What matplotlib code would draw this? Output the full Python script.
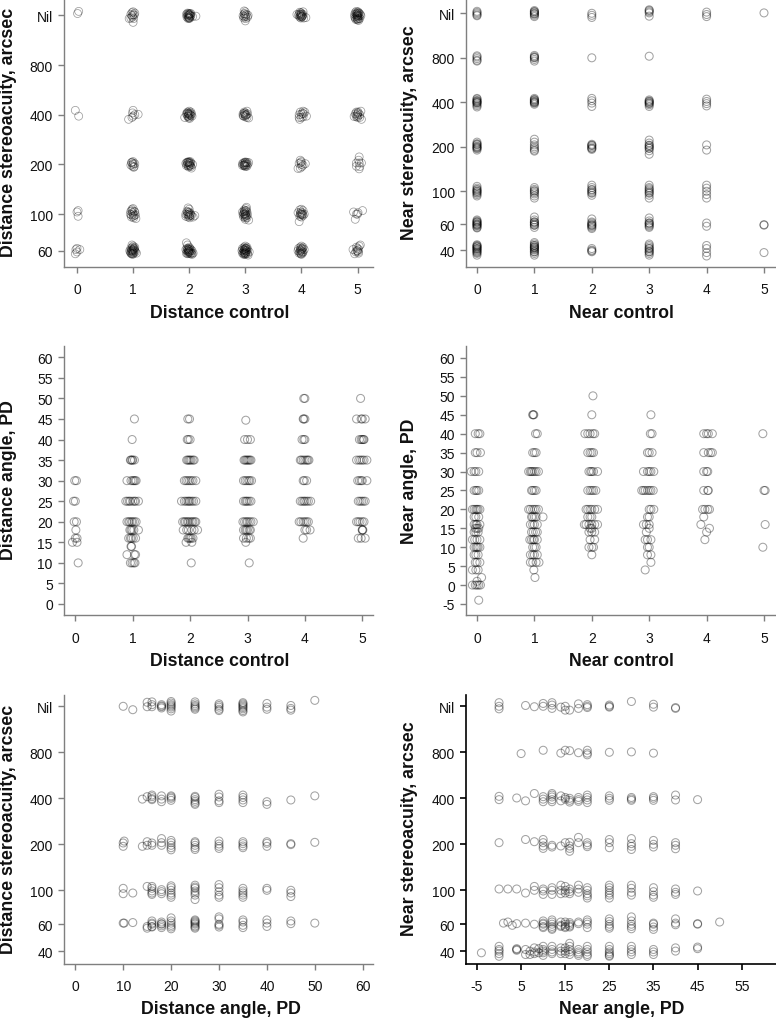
import matplotlib
matplotlib.use('Agg')
import matplotlib.pyplot as plt

plt.rcParams['font.family'] = ['Liberation Sans', 'DejaVu Sans']
plt.rcParams['axes.unicode_minus'] = False

NIL = 1600
stereo_ticks = [40, 60, 100, 200, 400, 800, NIL]
stereo_labels = ['40', '60', '100', '200', '400', '800', 'Nil']
stereo_ticks_a = stereo_ticks[1:]
stereo_labels_a = stereo_labels[1:]
control_ticks = [0, 1, 2, 3, 4, 5]
angle_ticks_c = [0, 5, 10, 15, 20, 25, 30, 35, 40, 45, 50, 55, 60]
angle_ticks_d = [-5] + angle_ticks_c
angle_ticks_e = [0, 10, 20, 30, 40, 50, 60]
angle_ticks_f = [-5, 5, 15, 25, 35, 45, 55]

# distance control vs distance stereoacuity, (control, arcsec)
a_col0 = [(0.03, 1690), (0.01, 1640), (-0.03, 425), (0.03, 392), (0.02, 105), (0.0, 103), (0.02, 97),
          (-0.02, 61), (0.0, 62), (0.05, 61), (-0.03, 57.5), (0.0, 59)]
a_col1 = [(0.98, 1660), (1.0, 1680), (0.96, 1620), (1.02, 1610), (0.93, 1530), (0.99, 1560), (1.01, 1530), (1.0, 1450),
          (0.98, 1590), (1.03, 1650), (0.96, 1540), (1.0, 1610),
          (1.0, 425), (0.99, 410), (1.03, 400), (1.09, 402), (0.92, 375), (1.0, 392), (0.98, 385),
          (0.97, 205), (1.0, 208), (1.03, 202), (0.99, 195), (1.01, 192), (0.96, 198), (1.0, 203), (0.98, 206), (1.02, 194), (1.0, 200),
          (0.98, 107), (1.0, 108), (0.96, 104), (1.02, 104), (0.95, 100), (1.0, 100), (1.04, 99), (0.97, 96), (1.01, 95), (1.05, 94),
          (0.99, 102), (1.02, 98), (0.98, 105), (0.97, 99), (1.03, 103), (1.0, 97),
          (0.98, 65), (1.0, 64), (0.96, 62), (0.99, 63), (1.02, 62), (0.94, 60), (0.97, 60), (1.0, 60), (1.03, 60), (1.06, 58),
          (0.95, 59), (0.98, 58), (1.01, 58), (0.99, 57), (1.04, 59), (0.97, 61), (1.0, 59), (1.02, 61), (0.98, 59.5), (0.99, 60.5),
          (1.0, 61), (0.96, 58), (1.01, 62), (1.03, 63), (0.97, 57.5), (1.0, 57.5)]
a_col2 = [(1.97, 1650), (2.0, 1640), (2.02, 1630), (1.95, 1620), (1.98, 1610), (2.0, 1600), (2.03, 1590), (2.06, 1570), (2.12, 1580),
          (1.96, 1560), (1.99, 1550), (2.01, 1540), (1.98, 1530), (2.0, 1530), (1.97, 1590), (2.0, 1620), (2.02, 1580), (1.99, 1570),
          (2.01, 1610), (1.98, 1640), (2.03, 1640), (2.0, 1550),
          (1.97, 415), (2.0, 420), (2.03, 415), (1.95, 405), (1.98, 408), (2.01, 410), (2.04, 405), (1.92, 385), (1.97, 392), (2.0, 398),
          (2.03, 395), (2.05, 392), (1.99, 382), (2.01, 380), (1.98, 402), (2.0, 405), (2.02, 400), (1.98, 392), (2.0, 388), (1.97, 410),
          (1.96, 206), (1.99, 208), (2.02, 208), (1.94, 203), (1.97, 200), (2.0, 202), (2.03, 204), (2.06, 200), (1.95, 197), (1.98, 196),
          (2.01, 196), (2.03, 194), (2.04, 190), (1.99, 193), (2.0, 206), (1.98, 205), (2.02, 198), (2.0, 198), (1.97, 206), (2.01, 204),
          (1.98, 109), (2.0, 107), (1.96, 104), (2.0, 103), (1.94, 100), (1.97, 100), (2.0, 100), (2.03, 99), (2.1, 98), (2.07, 96),
          (1.94, 97), (1.98, 96), (2.01, 95), (2.04, 98), (1.99, 102), (2.01, 98), (1.98, 99), (2.0, 97), (1.97, 103), (2.02, 101),
          (1.95, 67), (1.97, 65), (2.0, 63), (1.98, 62), (1.94, 61), (1.96, 60), (1.99, 60), (2.02, 60), (2.05, 60), (2.07, 58),
          (1.95, 58), (1.98, 58), (2.0, 58), (2.03, 58), (2.05, 57), (1.97, 61), (2.0, 61), (2.01, 62), (1.98, 59), (1.99, 59.5),
          (2.03, 61), (1.96, 62), (2.0, 59), (1.97, 57.5), (2.02, 57.5), (2.05, 58), (1.99, 61), (2.01, 59)]
a_col3 = [(2.98, 1700), (3.0, 1680), (2.98, 1630), (3.02, 1620), (2.96, 1590), (3.0, 1600), (3.05, 1600), (2.97, 1540), (3.01, 1530),
          (3.0, 1480), (3.04, 1560), (2.99, 1640), (3.01, 1570), (2.98, 1570),
          (2.98, 415), (3.03, 420), (2.96, 405), (3.0, 410), (3.02, 400), (2.97, 392), (3.0, 395), (3.03, 385), (3.06, 382), (2.99, 402),
          (3.01, 398), (2.98, 408), (2.96, 395), (3.0, 388), (3.04, 405),
          (2.97, 205), (3.0, 207), (3.03, 206), (3.06, 205), (2.95, 202), (2.98, 200), (3.01, 200), (3.04, 200), (2.95, 197), (2.98, 196),
          (3.0, 194), (3.03, 195), (2.99, 204), (3.01, 196), (3.0, 205), (2.97, 198), (3.02, 204), (2.99, 198),
          (3.02, 110), (3.01, 108), (2.98, 106), (3.02, 105), (2.95, 103), (2.99, 103), (3.03, 103), (2.96, 99), (3.0, 99), (3.04, 99),
          (2.97, 96), (3.0, 95), (3.03, 95), (3.06, 92), (3.0, 93), (2.98, 100), (3.01, 101), (2.99, 97), (3.02, 98), (3.0, 105),
          (2.98, 104), (3.01, 97), (2.97, 101), (3.0, 100),
          (3.0, 64), (2.98, 63), (3.03, 63), (2.95, 62), (2.98, 61), (3.01, 62), (3.04, 61), (2.94, 60), (2.97, 59), (3.0, 60), (3.03, 59),
          (3.07, 59), (2.95, 58), (2.98, 57.5), (3.01, 57.5), (3.04, 57.5), (2.97, 57), (3.0, 57), (3.05, 56.5), (2.99, 61), (3.01, 59), (2.98, 60),
          (3.02, 60), (3.0, 58), (2.96, 61), (3.02, 62), (2.99, 58.5), (3.01, 60.5), (2.98, 58), (3.0, 62)]
a_col4 = [(3.97, 1670), (4.03, 1680), (3.99, 1660), (3.92, 1620), (3.96, 1630), (4.0, 1640), (4.03, 1620), (3.95, 1600), (3.99, 1600),
          (4.02, 1590), (4.08, 1550), (3.97, 1560), (4.01, 1560), (4.04, 1540), (3.99, 1540), (4.0, 1620), (3.98, 1620), (4.01, 1580),
          (3.98, 1580), (4.0, 1570),
          (3.98, 415), (4.03, 420), (4.06, 415), (3.96, 400), (4.0, 402), (4.04, 405), (4.09, 392), (3.96, 385), (4.0, 385), (4.03, 388),
          (3.97, 375), (4.02, 408),
          (3.98, 212), (4.0, 208), (4.07, 202), (3.96, 203), (4.0, 200), (4.03, 198), (3.94, 189), (3.98, 190), (4.01, 194), (3.99, 205),
          (3.97, 106), (4.0, 107), (4.03, 105), (3.94, 102), (3.98, 101), (4.01, 102), (4.05, 100), (3.97, 97), (4.0, 96), (4.03, 98),
          (3.96, 90), (3.99, 103), (4.01, 99), (3.98, 99), (4.02, 100), (4.0, 100),
          (3.98, 63), (4.0, 64), (4.03, 63), (3.95, 62), (3.98, 61), (4.01, 61), (4.05, 61), (3.94, 60), (3.97, 59), (4.0, 60), (4.03, 59),
          (3.96, 58), (3.99, 57.5), (4.02, 58), (4.0, 62), (3.98, 60), (4.01, 59), (3.99, 58), (4.0, 57), (4.02, 62)]
a_col5 = [(4.98, 1690), (5.01, 1680), (4.96, 1660), (5.0, 1660), (5.03, 1650), (4.95, 1620), (4.98, 1630), (5.01, 1620), (5.05, 1620),
          (4.95, 1570), (4.98, 1580), (5.0, 1590), (5.03, 1590), (5.06, 1590), (4.96, 1540), (4.99, 1530), (5.02, 1530), (5.04, 1530),
          (5.0, 1500), (5.02, 1490), (4.97, 1510), (5.0, 1600), (4.99, 1610), (5.01, 1570), (5.0, 1560), (5.02, 1650), (4.99, 1650), (5.0, 1520),
          (4.98, 415), (5.01, 415), (5.06, 420), (4.96, 405), (5.0, 405), (5.04, 400), (4.94, 390), (4.98, 390), (5.01, 392), (5.04, 385),
          (5.07, 375), (4.99, 398), (5.01, 410), (5.0, 385),
          (5.03, 222), (5.02, 212), (4.98, 204), (5.03, 204), (5.07, 204), (4.98, 195), (5.04, 194), (5.03, 188),
          (4.93, 103), (4.98, 100), (5.0, 100), (5.09, 105), (5.01, 102), (4.96, 93),
          (5.05, 65), (5.03, 64), (4.98, 63), (4.92, 61), (5.02, 61), (4.97, 59), (5.0, 60), (4.95, 57.5), (5.02, 58), (4.99, 60),
          (5.01, 59), (5.0, 62)]
a_points = a_col0 + a_col1 + a_col2 + a_col3 + a_col4 + a_col5

# near control vs near stereoacuity, (control, [arcsec])
b_col0 = [1650, 1620, 1590, 1560, 1540, 825, 810, 790, 770, 760,
          425, 420, 412, 405, 400, 395, 388, 380, 372, 408, 398, 215, 210, 206, 202, 198, 194, 190, 208, 196, 200,
          108, 105, 103, 100, 97, 95, 93, 102, 98, 100, 64, 63, 62, 61, 60, 59, 58, 57, 56.5, 62, 59, 60,
          43.5, 43, 42.5, 42, 41, 40, 39, 38.5, 38, 37, 42, 41, 39.5, 40.5]
b_col1 = [1670, 1640, 1610, 1580, 1550, 1520, 1640, 1590, 830, 815, 800, 780, 760, 805, 425, 418, 410, 402, 395, 388, 415, 405, 398,
          225, 215, 206, 195, 190, 187, 200, 106, 103, 100, 96, 93, 90, 101, 98, 67, 64, 62, 60, 59, 57, 62, 59, 61,
          45, 44, 43, 42, 41.5, 41, 40, 39, 38, 37, 43, 39, 42, 40.5]
b_col2 = [1600, 1550, 1500, 800, 425, 410, 395, 375, 208, 204, 200, 196, 192, 205, 195, 110, 106, 102, 98, 94, 103, 97, 100,
          65, 62, 60, 59, 58, 57, 56, 61, 59, 41, 40, 39.5, 39]
b_col3 = [1690, 1670, 1640, 1610, 1530, 820, 415, 408, 400, 392, 385, 375, 405, 395, 222, 212, 204, 196, 188, 178, 205, 195, 200,
          110, 106, 102, 98, 94, 90, 100, 104, 97, 66, 63, 61, 60, 58, 57, 61, 59, 44, 43, 42, 41, 40, 39, 38, 37, 41, 39]
b_col4 = [1630, 1570, 1520, 420, 405, 392, 378, 206, 190, 110, 105, 100, 95, 90, 61, 58, 43, 41, 38.5, 36.5]
b_col5 = [1610, 59.5, 59, 38.5]
b_columns = [(0, b_col0), (1, b_col1), (2, b_col2), (3, b_col3), (4, b_col4), (5, b_col5)]

# distance control vs distance angle, (angle, [control])
c_rows = [
    (50, [3.98, 4.0, 4.97]),
    (45, [1.03, 1.96, 1.99, 3.97, 3.98, 4.0, 4.9, 4.98, 5.0, 5.05]),
    (44.7, [2.97]),
    (40, [0.99, 1.95, 1.97, 2.0, 2.95, 3.0, 3.05, 3.95, 3.98, 4.0, 4.95, 4.98, 5.0, 5.02, 5.03]),
    (35, [0.96, 0.97, 0.99, 1.0, 1.03, 1.94, 1.96, 1.98, 2.0, 2.02, 2.05, 2.07, 2.94, 2.96, 2.98, 3.0, 3.02, 3.04, 3.06,
          3.92, 3.94, 3.97, 4.0, 4.03, 4.05, 4.07, 4.9, 4.94, 4.97, 5.0, 5.03, 5.08]),
    (30, [-0.01, 0.02, 0.9, 0.97, 1.0, 1.02, 1.04, 1.06, 1.9, 1.93, 1.96, 1.99, 2.02, 2.05, 2.1, 2.93, 2.96, 2.99, 3.02, 3.04, 3.07,
          3.97, 3.99, 4.03, 4.92, 4.95, 4.98, 5.0, 5.08]),
    (25, [-0.03, 0.0, 0.88, 0.91, 0.94, 0.96, 1.0, 1.03, 1.05, 1.1, 1.85, 1.9, 1.93, 1.96, 1.98, 2.0, 2.03, 2.06, 2.1,
          2.93, 2.96, 2.98, 3.0, 3.03, 3.06, 3.92, 3.95, 3.98, 4.0, 4.03, 4.06, 4.1, 4.93, 4.96, 4.99, 5.02, 5.05]),
    (20, [-0.02, 0.02, 0.9, 0.93, 0.95, 0.98, 1.0, 1.03, 1.06, 1.87, 1.9, 1.92, 1.95, 1.97, 2.0, 2.03, 2.05, 2.08, 2.1,
          2.92, 2.95, 2.98, 3.0, 3.03, 3.06, 3.1, 3.9, 3.93, 3.97, 4.0, 4.03, 4.06, 4.9, 4.93, 4.96, 5.0, 5.03]),
    (18, [0.01, 0.95, 0.97, 0.99, 1.02, 1.1, 1.88, 1.94, 1.97, 2.03, 2.07, 2.13, 2.93, 2.96, 2.98, 3.0, 3.03, 3.05,
          4.0, 4.03, 4.09, 5.0, 5.0, 5.01]),
    (16, [0.0, 0.03, 0.93, 0.96, 0.98, 1.01, 1.05, 1.96, 1.98, 2.0, 2.02, 2.05, 2.93, 2.98, 3.02, 3.05, 3.97, 4.93, 4.98, 5.05]),
    (15, [-0.05, 0.03, 1.93, 2.03, 2.97]),
    (14, [0.97, 0.98]),
    (12, [0.9, 1.03, 1.05]),
    (10, [0.05, 0.96, 0.99, 1.02, 1.04, 2.02, 3.03]),
]

# near control vs near angle, (angle, [control])
d_rows = [
    (50, [2.02]),
    (45, [0.97, 0.98, 0.99, 2.0, 3.03]),
    (40, [-0.03, 0.02, 0.05, 1.02, 1.05, 1.88, 1.93, 1.97, 2.02, 2.05, 3.02, 3.05, 3.95, 4.0, 4.03, 4.1, 4.98]),
    (35, [-0.03, 0.0, 0.06, 0.97, 1.0, 1.03, 1.93, 1.97, 2.0, 2.03, 2.97, 3.0, 3.05, 3.95, 4.03, 4.07, 4.1]),
    (30, [-0.1, -0.05, -0.02, 0.03, 0.9, 0.93, 0.95, 0.97, 1.0, 1.03, 1.07, 1.95, 1.98, 2.0, 2.03, 2.1, 2.9, 2.97, 3.0, 3.03, 3.08,
          3.95, 4.0, 4.02]),
    (25, [-0.05, -0.02, 0.0, 0.03, 0.95, 0.97, 1.0, 1.03, 1.93, 1.97, 2.0, 2.03, 2.07, 2.87, 2.9, 2.93, 2.97, 3.0, 3.03, 3.07, 3.95,
          4.02, 4.03, 5.0, 5.02]),
    (20, [-0.08, -0.05, -0.02, 0.0, 0.02, 0.05, 0.9, 0.93, 0.97, 1.0, 1.03, 1.07, 1.9, 1.93, 1.97, 2.0, 2.05, 2.1, 3.0, 3.03, 3.08,
          3.93, 3.97, 4.02, 4.05]),
    (18, [-0.05, -0.02, 0.03, 0.95, 0.97, 1.0, 1.03, 1.15, 1.93, 1.97, 2.0, 2.97, 3.0, 3.95]),
    (16, [-0.05, -0.02, 0.0, 0.05, 0.93, 0.97, 1.0, 1.05, 1.87, 1.9, 1.95, 2.0, 2.05, 2.1, 2.9, 2.95, 3.0, 3.9, 5.02]),
    (15, [-0.03, 0.0, 0.03, 1.97, 2.0, 3.0, 4.05]),
    (14, [-0.05, -0.02, 0.02, 0.95, 0.98, 1.02, 1.05, 1.95, 2.0, 2.05, 2.95, 4.0]),
    (12, [-0.08, -0.04, 0.0, 0.05, 0.92, 0.95, 0.98, 1.0, 1.05, 1.97, 2.05, 2.93, 2.97, 3.03, 3.97]),
    (10, [-0.05, -0.02, 0.0, 0.02, 0.05, 0.97, 1.0, 1.03, 1.95, 2.0, 2.03, 2.97, 3.0, 4.98]),
    (8, [-0.05, -0.02, 0.02, 0.93, 0.97, 1.0, 1.05, 2.0, 2.97, 3.03]),
    (6, [-0.03, 0.0, 0.05, 0.93, 0.97, 1.03, 1.08, 3.03]),
    (4, [-0.08, -0.02, 0.02, 0.99, 2.93]),
    (2, [0.08, 1.01]),
    (1, [0.0]),
    (0, [-0.08, -0.03, 0.0, 0.03, 0.06]),
    (-4, [0.03]),
]

# distance angle vs distance stereoacuity, (angle, [arcsec])
e_columns = [
    (10, [1600, 204, 194, 103, 95, 61]),
    (10.2, [210, 61]),
    (12, [1520, 96, 61.5]),
    (14, [395, 194]),
    (15, [1700, 1590, 410, 208, 197, 106, 58, 56.5]),
    (16, [1710, 1640, 1590, 420, 410, 398, 392, 204, 197, 106, 103, 99, 96, 94, 63, 61, 60, 58, 57.5]),
    (18, [1640, 1610, 1590, 1560, 415, 395, 380, 218, 205, 197, 101, 98, 95, 62, 60.5, 60, 58.5, 57]),
    (20, [1720, 1680, 1640, 1610, 1580, 1540, 1490, 415, 408, 400, 388, 212, 205, 197, 190, 184, 107, 104, 100, 96, 93, 90,
          66, 63, 61, 59, 57.5, 56]),
    (25, [1710, 1660, 1620, 1590, 1560, 1530, 412, 405, 392, 382, 372, 365, 208, 204, 197, 190, 185, 108, 105, 103, 99, 96, 93, 87,
          64, 63, 62, 60, 58.5, 57.5, 56.5, 61]),
    (30, [1660, 1620, 1580, 1530, 1500, 425, 408, 385, 375, 210, 201, 194, 188, 109, 104, 98, 93, 90, 67, 65, 60, 59, 57.5]),
    (35, [1690, 1660, 1630, 1600, 1570, 1540, 1500, 1470, 420, 405, 390, 375, 208, 202, 195, 190, 103, 99, 96, 93, 90,
          64, 62, 59, 57]),
    (40, [1670, 1580, 1530, 380, 365, 208, 203, 194, 103, 100, 64, 61, 58]),
    (45, [1620, 1550, 1510, 390, 202, 199, 100, 96, 91, 63, 60.5]),
    (50, [1750, 415, 206, 61]),
]

# near angle vs near stereoacuity, (angle, [arcsec])
f_columns = [
    (-4, [39]),
    (0, [1690, 1600, 1540, 412, 392, 205, 102, 43, 41, 40, 38.5, 37]),
    (1, [61]),
    (2, [102, 62]),
    (3, [59]),
    (4, [402, 102, 60.5, 41.5, 41, 40.5]),
    (5, [785]),
    (6, [1620, 385, 215, 96, 61, 38, 41]),
    (7, [38, 40]),
    (8, [1590, 430, 208, 106, 100, 60, 42, 39.5, 38.5]),
    (9, [41.5, 39]),
    (10, [1670, 1600, 825, 410, 395, 380, 215, 205, 195, 188, 102, 99, 94, 63, 61, 60, 58, 57, 43, 41, 40, 39, 37.5]),
    (12, [1690, 1630, 1550, 430, 420, 408, 392, 380, 197, 192, 104, 100, 94, 64, 62, 60, 58, 56.5, 55.5, 43, 41, 39.5, 38.5]),
    (14, [1580, 790, 415, 385, 195, 108, 100, 95, 62, 59, 58, 42, 40, 38.5]),
    (15, [1600, 1510, 825, 405, 395, 205, 106, 100, 96, 62, 60, 58, 57, 42, 40, 38.5]),
    (16, [1510, 820, 400, 388, 378, 206, 195, 188, 180, 102, 98, 95, 61.5, 60, 58.5, 57.5, 45, 43, 41, 39.5, 38]),
    (18, [1660, 1550, 795, 405, 392, 382, 222, 205, 108, 102, 97, 62, 60.5, 41, 39.5, 38.5, 37.5]),
    (20, [1640, 1600, 1570, 825, 790, 770, 420, 405, 390, 375, 205, 198, 193, 104, 100, 95, 92, 89, 64, 62, 60, 57, 43, 41, 39.5, 38, 37]),
    (25, [1630, 1600, 1580, 800, 415, 400, 388, 215, 205, 190, 108, 104, 100, 96, 93, 89, 65, 62.5, 60, 58, 56.5, 43, 41, 39.5, 38.5, 37.5, 37]),
    (30, [1720, 805, 405, 396, 388, 218, 202, 194, 185, 108, 103, 97, 93, 67, 63, 60, 58, 56, 43, 41, 39.5, 38]),
    (35, [1650, 1580, 790, 410, 400, 388, 212, 200, 192, 104, 98, 93, 90, 61, 60, 57.5, 55.5, 41, 39.5, 38]),
    (40, [1570, 1550, 420, 390, 205, 197, 187, 102, 97, 94, 65, 61, 59.5, 42, 40]),
    (45, [392, 99, 60, 60.5, 42.5, 41.5]),
    (50, [62]),
]

W, H = 776, 1020
fig = plt.figure(figsize=(W / 100, H / 100), dpi=100)
gray = '#7f7f7f'


def make_axes(left, right, top, bottom, color=gray, lw=1.0):
    ax = fig.add_axes([left / W, 1 - bottom / H, (right - left) / W, (bottom - top) / H])
    for side in ['top', 'right']:
        ax.spines[side].set_visible(False)
    for side in ['left', 'bottom']:
        ax.spines[side].set_color(color)
        ax.spines[side].set_linewidth(lw)
    ax.tick_params(length=4.6, width=lw, color=color, labelsize=10, labelcolor='#111111')
    ax.tick_params(axis='x', pad=6.5)
    ax.tick_params(axis='y', pad=3.5)
    ax.patch.set_alpha(0)
    return ax


def scale_x(ax, left, right, v0, p0, v1, p1):
    k = (v1 - v0) / (p1 - p0)
    ax.set_xlim(v0 + (left - p0) * k, v0 + (right - p0) * k)


def scale_y(ax, top, bottom, v0, p0, v1, p1):
    k = (v1 - v0) / (p1 - p0)
    ax.set_ylim(v0 + (bottom - p0) * k, v0 + (top - p0) * k)


def scale_stereo(ax, top, bottom, nil_px, px_per_doubling):
    ax.set_yscale('log', base=2)
    ax.set_ylim(NIL * 2 ** ((nil_px - bottom) / px_per_doubling), NIL * 2 ** ((nil_px - top) / px_per_doubling))
    ax.minorticks_off()


def circles(ax, xs, ys, alpha=0.36, lw=0.75):
    ax.scatter(xs, ys, s=33, facecolors='none', edgecolors='#000000', linewidths=lw, alpha=alpha, clip_on=False)


def labels(xtext, xpos, ytext, ypos):
    fig.text(xpos[0] / W, 1 - xpos[1] / H, xtext, fontweight='bold', fontsize=12.8, ha='center', va='center', color='#111111')
    fig.text(ypos[0] / W, 1 - ypos[1] / H, ytext, fontweight='bold', fontsize=12.8, rotation=90, ha='center', va='center', color='#111111')


# Distance control vs distance stereoacuity
ax = make_axes(64, 373, 0, 268)
scale_x(ax, 64, 373, 0, 77, 5, 357.5)
scale_stereo(ax, 0, 268, 16.3, 49.7)
ax.set_xticks(control_ticks)
ax.set_yticks(stereo_ticks_a, stereo_labels_a)
circles(ax, [p[0] for p in a_points], [p[1] for p in a_points], alpha=0.38, lw=0.55)
labels('Distance control', (220, 313), 'Distance stereoacuity, arcsec', (8.5, 132))

# Near control vs near stereoacuity
ax = make_axes(466.3, 776, 0, 268)
scale_x(ax, 466.3, 776, 0, 477, 5, 764)
scale_stereo(ax, 0, 268, 14.3, 44.5)
ax.set_xticks(control_ticks)
ax.set_yticks(stereo_ticks, stereo_labels)
circles(ax, [c for c, vals in b_columns for v in vals], [v for c, vals in b_columns for v in vals])
labels('Near control', (621, 313), 'Near stereoacuity, arcsec', (409.7, 133))

# Distance control vs distance angle
ax = make_axes(64, 373, 347, 616.3)
scale_x(ax, 64, 373, 0, 75.3, 5, 362.3)
scale_y(ax, 347, 616.3, 0, 605, 60, 358.3)
ax.set_xticks(control_ticks)
ax.set_yticks(angle_ticks_c)
circles(ax, [v for a, vals in c_rows for v in vals], [a for a, vals in c_rows for v in vals])
labels('Distance control', (220, 661.7), 'Distance angle, PD', (8.5, 480))

# Near control vs near angle
ax = make_axes(466.3, 776, 347, 616.3)
scale_x(ax, 466.3, 776, 0, 477, 5, 764)
scale_y(ax, 347, 616.3, -5, 605, 60, 359)
ax.set_xticks(control_ticks)
ax.set_yticks(angle_ticks_d)
circles(ax, [v for a, vals in d_rows for v in vals], [a for a, vals in d_rows for v in vals])
labels('Near control', (621, 661.7), 'Near angle, PD', (410, 481))

# Distance angle vs distance stereoacuity
ax = make_axes(64, 373, 695.7, 964.7)
scale_x(ax, 64, 373, 0, 75.3, 60, 362.7)
scale_stereo(ax, 695.7, 964.7, 707.3, 46)
ax.set_xticks(angle_ticks_e)
ax.set_yticks(stereo_ticks, stereo_labels)
circles(ax, [a for a, vals in e_columns for v in vals], [v for a, vals in e_columns for v in vals])
labels('Distance angle, PD', (221, 1010), 'Distance stereoacuity, arcsec', (8.5, 829))

# Near angle vs near stereoacuity
ax = make_axes(466.3, 776, 695.7, 964.7, color='#000000', lw=1.2)
scale_x(ax, 466.3, 776, -5, 477, 55, 741.7)
scale_stereo(ax, 695.7, 964.7, 707.3, 46)
ax.set_xticks(angle_ticks_f)
ax.set_yticks(stereo_ticks, stereo_labels)
circles(ax, [a for a, vals in f_columns for v in vals], [v for a, vals in f_columns for v in vals])
labels('Near angle, PD', (622, 1010), 'Near stereoacuity, arcsec', (410, 829))

fig.savefig('out.png', dpi=100)
